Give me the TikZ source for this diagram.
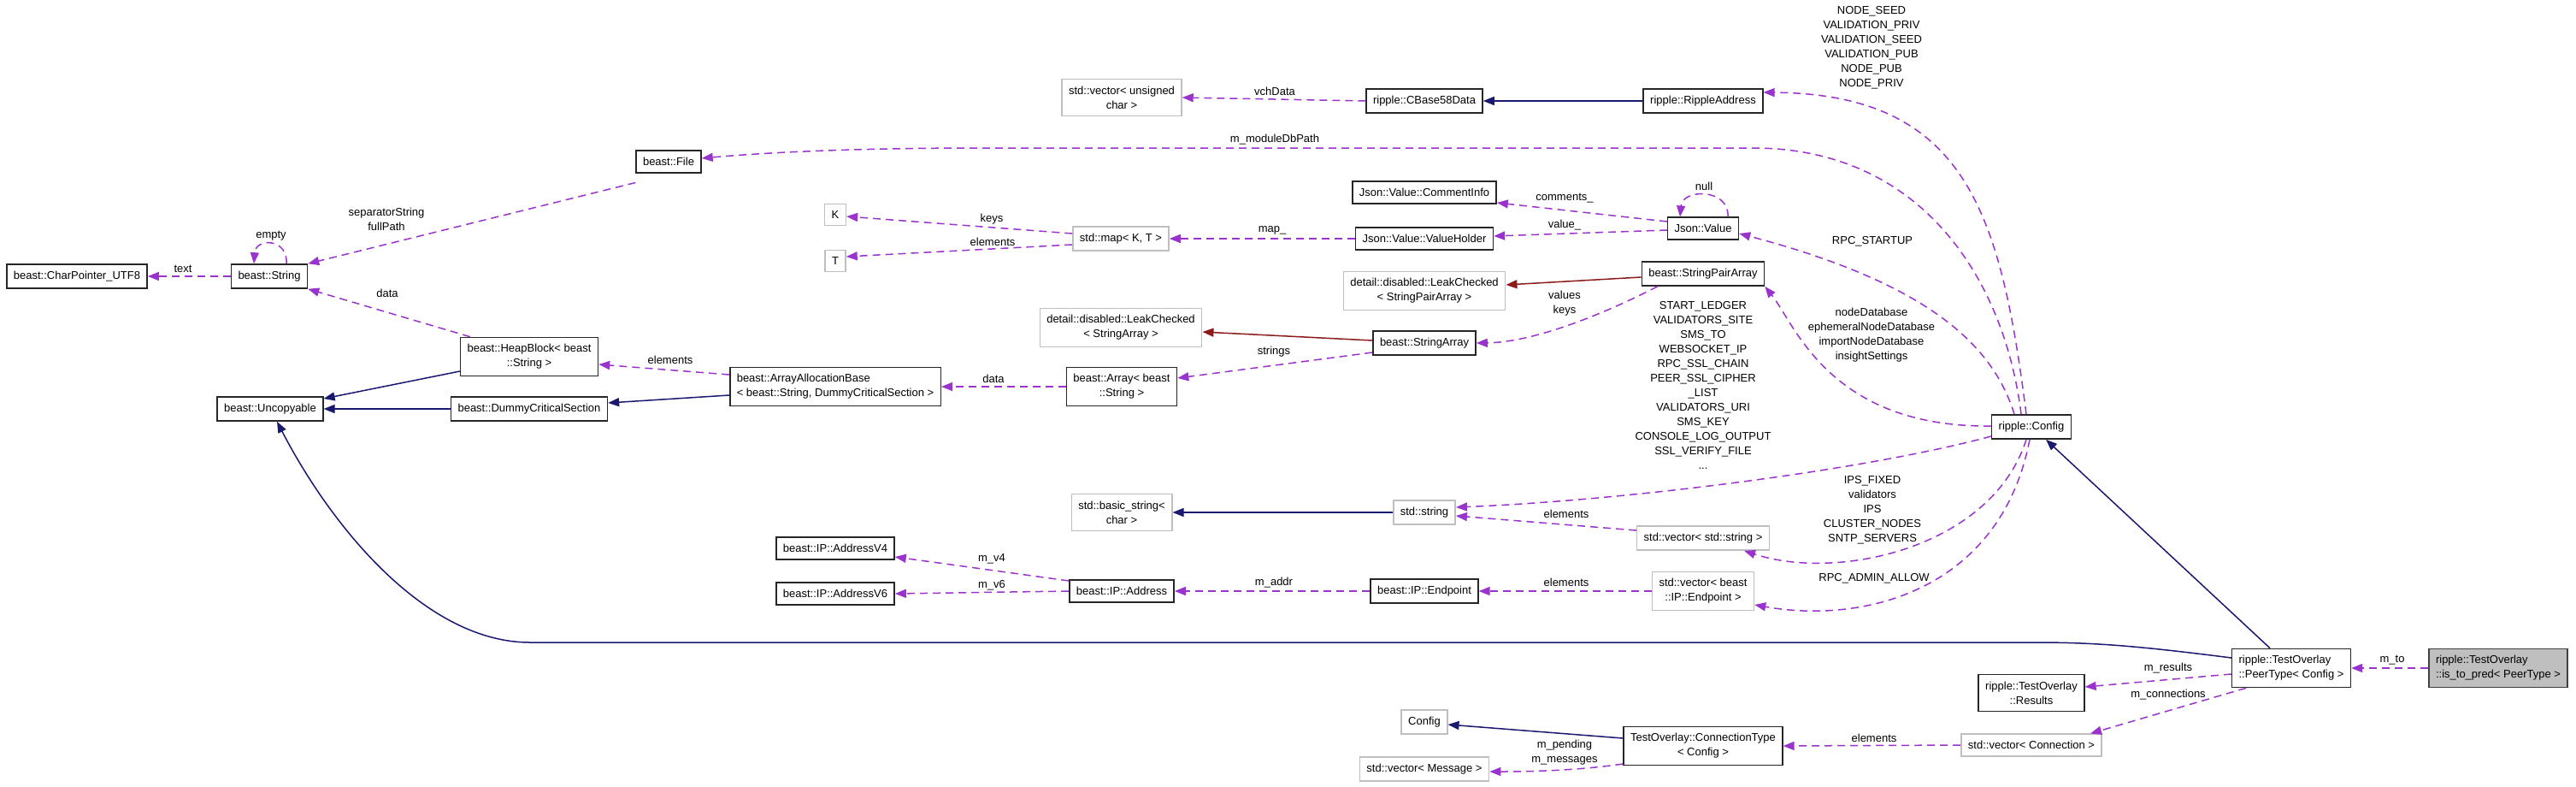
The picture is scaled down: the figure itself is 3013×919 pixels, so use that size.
\documentclass[tikz,border=0pt]{standalone}
\usepackage{fontspec}
\setmainfont{Liberation Sans}
\usetikzlibrary{arrows.meta}

\definecolor{usecol}{HTML}{9A32CD}
\definecolor{inhcol}{HTML}{191970}
\definecolor{privcol}{HTML}{8B1A1A}
\definecolor{undoccol}{HTML}{BFBFBF}

\begin{document}
\begin{tikzpicture}[
    x=1pt, y=-1pt,
    every node/.style={font=\fontsize{13}{17}\selectfont},
    cls/.style={draw=black!85, line width=1.5pt, fill=white, inner xsep=8pt, inner ysep=8pt, align=center},
    undoc/.style={cls, draw=undoccol},
    cur/.style={cls, draw=black!75, fill=undoccol},
    mem/.style={color=usecol, line width=1.5pt, dash pattern=on 9pt off 6pt, -{Triangle[length=13pt, width=10pt]}},
    base/.style={color=inhcol, line width=1.5pt, -{Triangle[length=13pt, width=10pt]}},
    pbase/.style={color=privcol, line width=1.5pt, -{Triangle[length=13pt, width=10pt]}},
    lbl/.style={align=center, inner sep=0pt},
  ]
  \useasboundingbox (0,0) rectangle (3013,919);

  % beast classes (left part)
  \node[cls] (cpu8) at (90,323) {beast::CharPointer\_UTF8};
  \node[cls] (str) at (315,323) {beast::String};
  \node[cls] (file) at (782,189) {beast::File};
  \node[cls] (unc) at (316,478) {beast::Uncopyable};
  \node[cls] (heap) at (619,417) {beast::HeapBlock< beast\\::String >};
  \node[cls] (dcs) at (619,478) {beast::DummyCriticalSection};
  \node[cls, align=left] (aab) at (977,452) {beast::ArrayAllocationBase\\< beast::String, DummyCriticalSection >};
  \node[cls] (arr) at (1312,452) {beast::Array< beast\\::String >};
  \node[undoc] (lcsa) at (1311,383) {detail::disabled::LeakChecked\\< StringArray >};
  \node[cls] (sarr) at (1666,401) {beast::StringArray};
  \node[undoc] (lcspa) at (1666,340) {detail::disabled::LeakChecked\\< StringPairArray >};
  \node[cls] (spa) at (1992,320) {beast::StringPairArray};

  % json and map
  \node[undoc] (kk) at (977,251) {K};
  \node[undoc] (tt) at (977,305) {T};
  \node[undoc] (smap) at (1311,279) {std::map< K, T >};
  \node[cls] (vholder) at (1666,279) {Json::Value::ValueHolder};
  \node[cls] (cinfo) at (1666,225) {Json::Value::CommentInfo};
  \node[cls] (jval) at (1992,267) {Json::Value};

  % ripple address
  \node[undoc] (vuc) at (1312,114) {std::vector< unsigned\\char >};
  \node[cls] (b58) at (1666,118) {ripple::CBase58Data};
  \node[cls] (raddr) at (1992,118) {ripple::RippleAddress};
  \node[cls] (cfg) at (2376,499) {ripple::Config};

  % strings and IP
  \node[undoc] (bstr) at (1312,599) {std::basic\_string<\\char >};
  \node[undoc] (sstr) at (1666,599) {std::string};
  \node[undoc] (vstr) at (1992,629) {std::vector< std::string >};
  \node[cls] (av4) at (977,641) {beast::IP::AddressV4};
  \node[cls] (av6) at (977,694) {beast::IP::AddressV6};
  \node[cls] (addr) at (1312,691) {beast::IP::Address};
  \node[cls] (endp) at (1666,691) {beast::IP::Endpoint};
  \node[undoc] (vep) at (1992,691) {std::vector< beast\\::IP::Endpoint >};

  % test overlay
  \node[cls, align=left] (peer) at (2680,781) {ripple::TestOverlay\\::PeerType< Config >};
  \node[cur, align=left] (pred) at (2922,781) {ripple::TestOverlay\\::is\_to\_pred< PeerType >};
  \node[cls] (res) at (2376,810) {ripple::TestOverlay\\::Results};
  \node[undoc] (vconn) at (2376,871) {std::vector< Connection >};
  \node[cls] (ctype) at (1992,872) {TestOverlay::ConnectionType\\< Config >};
  \node[undoc] (cfg2) at (1666,844) {Config};
  \node[undoc] (vmsg) at (1666,899) {std::vector< Message >};

  % inheritance
  \draw[base] (dcs.west) -- (unc.east);
  \draw[base] ([yshift=-17pt]heap.west) -- ([yshift=12pt]unc.east);
  \draw[base] ([yshift=-10pt]aab.west) -- ([yshift=7pt]dcs.east);
  \draw[base] (raddr.west) -- (b58.east);
  \draw[base] (sstr.west) -- (bstr.east);
  \draw[base] ([xshift=-25pt]peer.north) -- ([xshift=17pt]cfg.south);
  \draw[base] ([yshift=12pt]peer.west) .. controls (2500,755) and (2450,751) .. (2380,751)
    -- (620,751) .. controls (500,751) and (390,620) .. ([xshift=8pt]unc.south);
  \draw[base] ([yshift=9pt]ctype.west) -- ([yshift=-3pt]cfg2.east);
  \draw[pbase] ([yshift=3pt]sarr.west) -- ([yshift=-5pt]lcsa.east);
  \draw[pbase] ([yshift=-4pt]spa.west) -- ([yshift=7pt]lcspa.east);

  % members
  \draw[mem] (str.west) -- (cpu8.east);
  \draw[mem] ([xshift=20pt]str.north) .. controls (337,278) and (299,278) .. ([xshift=-18pt]str.north);
  \draw[mem] ([yshift=-11pt]file.south west) -- (str.north east);
  \draw[mem] ([xshift=12pt]heap.north west) -- (str.south east);
  \draw[mem] ([yshift=14pt]aab.west) -- ([yshift=-9pt]heap.east);
  \draw[mem] (arr.west) -- (aab.east);
  \draw[mem] ([yshift=-11pt]sarr.west) -- ([yshift=10pt]arr.east);
  \draw[mem] ([xshift=19pt]spa.south west) .. controls (1890,360) and (1800,400) .. (sarr.east);
  \draw[mem] ([yshift=1pt]cfg.west) .. controls (2140,500) and (2100,380) .. (spa.south east);
  \draw[mem] ([yshift=-11pt]cfg.west) .. controls (2180,550) and (1900,585) .. ([yshift=6pt]sstr.east);
  \draw[mem] ([yshift=9pt]vstr.west) -- ([yshift=-4pt]sstr.east);
  \draw[mem] ([xshift=-6pt]cfg.south) .. controls (2330,640) and (2150,680) .. ([xshift=48pt]vstr.south);
  \draw[mem] ([xshift=-2pt]cfg.south) .. controls (2340,690) and (2180,730) .. ([yshift=-16pt]vep.east);
  \draw[mem] (vep.west) -- (endp.east);
  \draw[mem] (endp.west) -- (addr.east);
  \draw[mem] ([yshift=12pt]addr.west) -- ([yshift=-10pt]av4.east);
  \draw[mem] (addr.west) -- (av6.east);
  \draw[mem] ([xshift=-20pt]cfg.north) .. controls (2330,400) and (2250,330) .. ([yshift=-6pt]jval.east);
  \draw[mem] ([xshift=29pt]jval.north) .. controls (2023,220) and (1968,220) .. ([xshift=-27pt]jval.north);
  \draw[mem] ([yshift=8pt]jval.west) -- ([yshift=-12pt]cinfo.east);
  \draw[mem] ([yshift=-2pt]jval.west) -- ([yshift=3pt]vholder.east);
  \draw[mem] (vholder.west) -- (smap.east);
  \draw[mem] ([yshift=6pt]smap.west) -- ([yshift=-2pt]kk.east);
  \draw[mem] ([yshift=-7pt]smap.west) -- ([yshift=5pt]tt.east);
  \draw[mem] ([xshift=-12pt]cfg.north) .. controls (2345,330) and (2250,173) .. (2050,173)
    -- (1150,173) .. controls (1000,173) and (900,178) .. ([yshift=4pt]file.east);
  \draw[mem] ([xshift=-6pt]cfg.north) .. controls (2340,250) and (2300,110) .. ([yshift=10pt]raddr.east);
  \draw[mem] (b58.west) -- (vuc.east);
  \draw[mem] ([yshift=-7pt]peer.west) -- ([yshift=7pt]res.east);
  \draw[mem] ([xshift=-53pt]peer.south) -- ([xshift=69pt]vconn.north);
  \draw[mem] (pred.west) -- (peer.east);
  \draw[mem] (vconn.west) -- (ctype.east);
  \draw[mem] ([yshift=-21pt]ctype.west) .. controls (1850,900) and (1800,902) .. ([yshift=-3pt]vmsg.east);

  % edge labels
  \node[lbl] (l-text) at (214,314) {text};
  \node[lbl] (l-empty) at (317,276) {empty};
  \node[lbl] (l-sep) at (452,256) {separatorString\\fullPath};
  \node[lbl] (l-hdata) at (453,343) {data};
  \node[lbl] (l-helem) at (784,421) {elements};
  \node[lbl] (l-adata) at (1162,443) {data};
  \node[lbl] (l-strings) at (1490,411) {strings};
  \node[lbl] (l-values) at (1830,355) {values\\keys};
  \node[lbl] (l-vch) at (1491,107) {vchData};
  \node[lbl] (l-module) at (1491,163) {m\_moduleDbPath};
  \node[lbl] (l-keys) at (1160,256) {keys};
  \node[lbl] (l-telem) at (1161,283) {elements};
  \node[lbl] (l-map) at (1488,269) {map\_};
  \node[lbl] (l-comm) at (1830,232) {comments\_};
  \node[lbl] (l-value) at (1830,263) {value\_};
  \node[lbl] (l-null) at (1993,218) {null};
  \node[lbl] (l-rpc) at (2190,282) {RPC\_STARTUP};
  \node[lbl] (l-seeds) at (2189,56) {NODE\_SEED\\VALIDATION\_PRIV\\VALIDATION\_SEED\\VALIDATION\_PUB\\NODE\_PUB\\NODE\_PRIV};
  \node[lbl] (l-dbs) at (2189,392) {nodeDatabase\\ephemeralNodeDatabase\\importNodeDatabase\\insightSettings};
  \node[lbl] (l-strs) at (1992,450) {START\_LEDGER\\VALIDATORS\_SITE\\SMS\_TO\\WEBSOCKET\_IP\\RPC\_SSL\_CHAIN\\PEER\_SSL\_CIPHER\\\_LIST\\VALIDATORS\_URI\\SMS\_KEY\\CONSOLE\_LOG\_OUTPUT\\SSL\_VERIFY\_FILE\\...};
  \node[lbl] (l-ips) at (2190,596) {IPS\_FIXED\\validators\\IPS\\CLUSTER\_NODES\\SNTP\_SERVERS};
  \node[lbl] (l-selem) at (1832,601) {elements};
  \node[lbl] (l-admin) at (2192,676) {RPC\_ADMIN\_ALLOW};
  \node[lbl] (l-eelem) at (1832,681) {elements};
  \node[lbl] (l-addr) at (1490,681) {m\_addr};
  \node[lbl] (l-v4) at (1160,653) {m\_v4};
  \node[lbl] (l-v6) at (1160,684) {m\_v6};
  \node[lbl] (l-res) at (2536,781) {m\_results};
  \node[lbl] (l-conn) at (2536,812) {m\_connections};
  \node[lbl] (l-to) at (2798,772) {m\_to};
  \node[lbl] (l-celem) at (2192,863) {elements};
  \node[lbl] (l-pend) at (1830,880) {m\_pending\\m\_messages};
\end{tikzpicture}
\end{document}
